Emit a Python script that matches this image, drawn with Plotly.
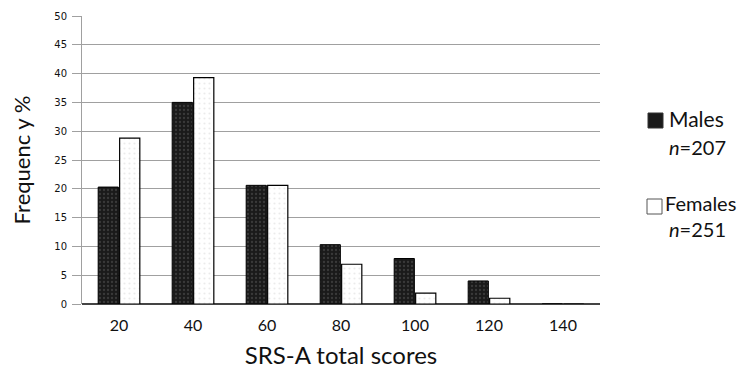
import plotly.graph_objects as go

categories = ["20", "40", "60", "80", "100", "120", "140"]
males = [20.3, 35.0, 20.6, 10.3, 7.9, 4.0, 0.0]
females = [28.8, 39.3, 20.6, 6.9, 1.9, 1.0, 0.0]
y_ticks = [0, 5, 10, 15, 20, 25, 30, 35, 40, 45, 50]
series_names = ["Males", "Females"]
series_n = [207, 251]

fig = go.Figure()
fig.add_trace(go.Bar(
    x=categories, y=males, name=series_names[0], showlegend=False,
    marker=dict(color="#1e1e1e", line=dict(color="#000000", width=1),
                pattern=dict(shape=".", fgcolor="#5a5a5a", bgcolor="#1a1a1a",
                             size=4, solidity=0.25)),
))
fig.add_trace(go.Bar(
    x=categories, y=females, name=series_names[1], showlegend=False,
    marker=dict(color="#ffffff", line=dict(color="#000000", width=1.2),
                pattern=dict(shape=".", fgcolor="#d8d8d8", bgcolor="#ffffff",
                             size=5, solidity=0.15)),
))

# manual legend (screen layout: plot area x 82..600, y 16..304; page has 8px body margin)
def px(xs):
    return (xs - 82) / 518.0

def py(ys):
    return (304 - ys) / 288.0

shapes = [
    dict(type="rect", xref="paper", yref="paper", x0=px(648), x1=px(663), y0=py(128), y1=py(113),
         fillcolor="#1a1a1a", line=dict(color="#333", width=1)),
    dict(type="rect", xref="paper", yref="paper", x0=px(647), x1=px(662), y0=py(214), y1=py(199),
         fillcolor="#ffffff", line=dict(color="#555", width=1)),
]
legend_items = [
    (series_names[0], 668, 119, 21),
    ("<i>n</i>=%d" % series_n[0], 668, 147, 20),
    (series_names[1], 664, 203, 20),
    ("<i>n</i>=%d" % series_n[1], 668, 229, 20),
]
annotations = []
for txt, xs, yc, sz in legend_items:
    annotations.append(dict(
        text=txt, x=px(xs), y=py(yc), xref="paper", yref="paper",
        xanchor="left", yanchor="middle", showarrow=False, borderpad=0,
        font=dict(size=sz, color="#111"),
    ))

fig.update_layout(
    width=749, height=370,
    margin=dict(l=74, r=157, t=8, b=74),
    paper_bgcolor="white", plot_bgcolor="white",
    barmode="group", bargap=0.42, bargroupgap=0.06,
    font=dict(family="Lato, Open Sans, sans-serif", color="#111"),
    shapes=shapes, annotations=annotations,
    xaxis=dict(
        title=dict(text="SRS-A total scores", font=dict(size=24, color="#111"), standoff=14),
        tickfont=dict(size=16, color="#111"), ticklabelstandoff=10,
        showline=False, ticks="", showgrid=False, automargin=False,
    ),
    yaxis=dict(
        title=dict(text="Frequenc y %", font=dict(size=22, color="#111"), standoff=28),
        range=[0, 50], tickvals=y_ticks,
        tickfont=dict(size=10, family="DejaVu Sans", color="#111"), ticklabelstandoff=3,
        showgrid=True, gridcolor="#a0a0a0", gridwidth=1,
        showline=True, linecolor="#a0a0a0", linewidth=1,
        ticks="outside", ticklen=9, tickcolor="#a0a0a0",
        zeroline=True, zerolinecolor="#444", zerolinewidth=1.5,
        automargin=False,
    ),
)

fig.write_html("out.html")
